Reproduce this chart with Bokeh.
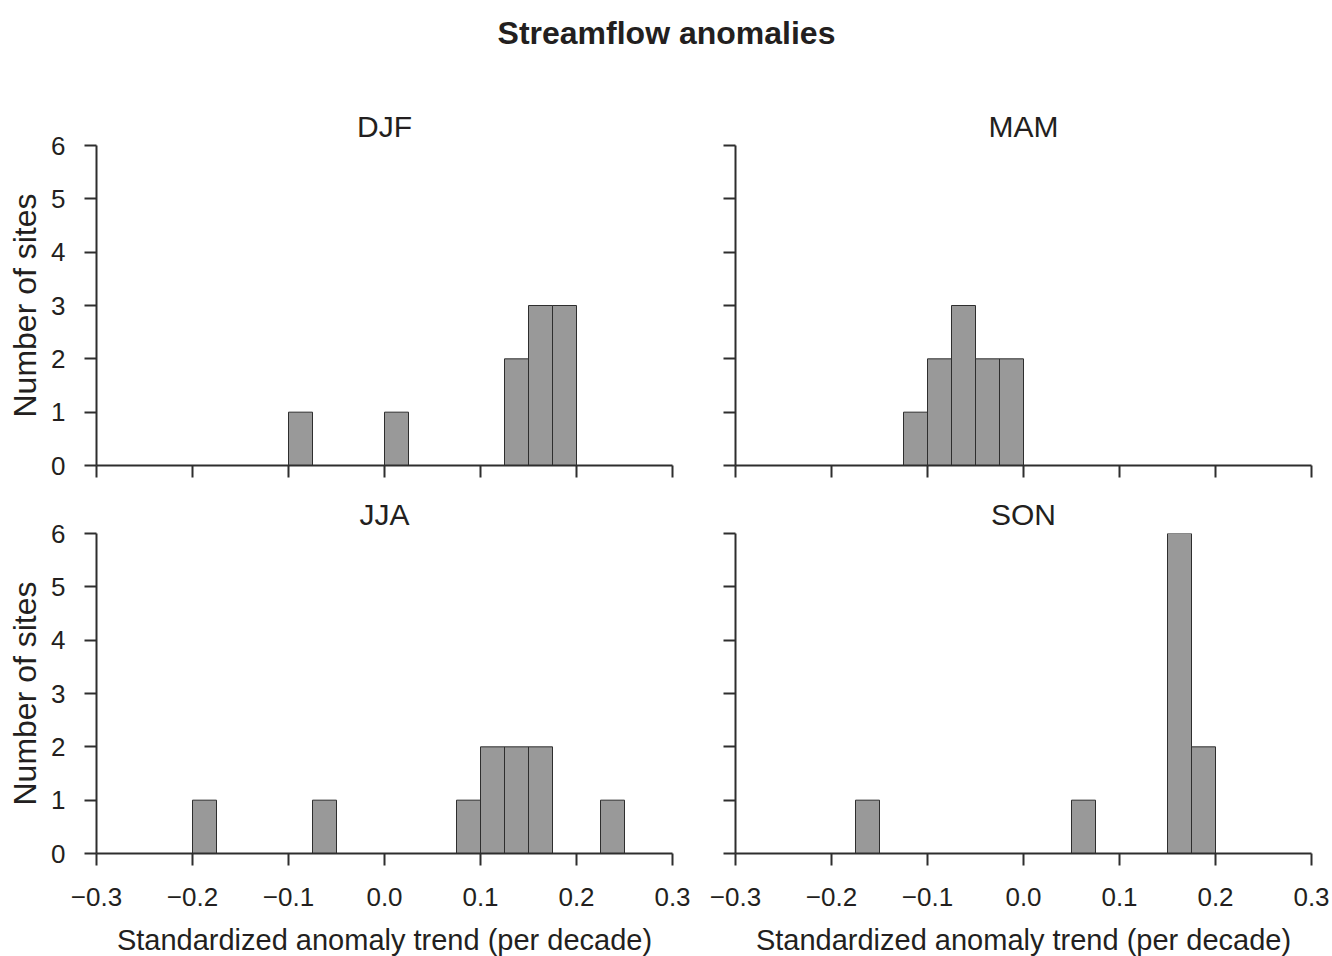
from bokeh.plotting import figure
from bokeh.layouts import column, row
from bokeh.models import FixedTicker, Range1d
from bokeh.embed import file_html
from bokeh.resources import INLINE

# ---- data (bin left edges, bin width 0.025, counts) ----
bin_width = 0.025
djf_left = [-0.1, 0.0, 0.125, 0.15, 0.175]
djf_count = [1, 1, 2, 3, 3]
mam_left = [-0.125, -0.1, -0.075, -0.05, -0.025]
mam_count = [1, 2, 3, 2, 2]
jja_left = [-0.2, -0.075, 0.075, 0.1, 0.125, 0.15, 0.225]
jja_count = [1, 1, 1, 2, 2, 2, 1]
son_left = [-0.175, 0.05, 0.15, 0.175]
son_count = [1, 1, 6, 2]

x_ticks = [-0.3, -0.2, -0.1, 0.0, 0.1, 0.2, 0.3]
x_tick_labels = ["\u22120.3", "\u22120.2", "\u22120.1", "0.0", "0.1", "0.2", "0.3"]
y_ticks = [0, 1, 2, 3, 4, 5, 6]

main_title = "Streamflow anomalies"
x_label = "Standardized anomaly trend (per decade)"
y_label = "Number of sites"

FONT = "Liberation Sans"
TXT = "#231f20"
LINE = "#2e2e2e"


def panel(name, left, count, bottom_row, left_col):
    bl = 96 if left_col else 33
    br = 30 if left_col else 21
    bt = 40 if bottom_row else 67
    bb = 103 if bottom_row else 28
    p = figure(frame_width=576, frame_height=320,
               x_range=Range1d(-0.3, 0.3), y_range=Range1d(0, 6),
               toolbar_location=None, output_backend="svg",
               min_border_left=bl, min_border_right=br,
               min_border_top=bt, min_border_bottom=bb)
    p.outline_line_color = None
    p.xgrid.visible = False
    p.ygrid.visible = False
    p.background_fill_color = "white"
    p.border_fill_color = "white"

    p.title.text = name
    p.title.align = "center"
    p.title.text_font = FONT
    p.title.text_font_size = "30px"
    p.title.text_font_style = "normal"
    p.title.text_color = TXT
    p.title.standoff = 5

    right = [l + bin_width for l in left]
    p.quad(left=left, right=right, bottom=0, top=count,
           fill_color="#999999", line_color="#2e2e2e", line_width=1)

    for ax in (p.xaxis[0], p.yaxis[0]):
        ax.axis_line_color = LINE
        ax.axis_line_width = 2
        ax.major_tick_line_color = LINE
        ax.major_tick_line_width = 2
        ax.major_tick_in = 0
        ax.major_tick_out = 12
        ax.minor_tick_line_color = None
        ax.major_label_text_font = FONT
        ax.major_label_text_color = TXT
        ax.axis_label_text_font = FONT
        ax.axis_label_text_color = TXT
        ax.axis_label_text_font_style = "normal"

    xa = p.xaxis[0]
    xa.ticker = FixedTicker(ticks=x_ticks)
    xa.major_label_overrides = {t: s for t, s in zip(x_ticks, x_tick_labels)}
    if bottom_row:
        xa.major_label_text_font_size = "26px"
        xa.major_label_standoff = 22
        xa.axis_label = x_label
        xa.axis_label_text_font_size = "29px"
        xa.axis_label_standoff = 15
    else:
        xa.major_label_text_font_size = "1px"
        xa.major_label_text_color = None
        xa.major_label_standoff = 0

    ya = p.yaxis[0]
    ya.ticker = FixedTicker(ticks=y_ticks)
    if left_col:
        ya.major_label_text_font_size = "26px"
        ya.major_label_standoff = 19
        ya.axis_label = y_label
        ya.axis_label_text_font_size = "32px"
        ya.axis_label_standoff = 5
    else:
        ya.major_label_text_font_size = "1px"
        ya.major_label_text_color = None
        ya.major_label_standoff = 0
    return p


head = figure(width=1332, height=78, toolbar_location=None, output_backend="svg",
              x_axis_location=None, y_axis_location=None,
              min_border_left=0, min_border_right=0, min_border_bottom=0,
              min_border_top=50)
head.outline_line_color = None
head.xgrid.visible = False
head.ygrid.visible = False
head.title.text = main_title
head.title.align = "center"
head.title.text_font = FONT
head.title.text_font_size = "32px"
head.title.text_font_style = "bold"
head.title.text_color = TXT
head.title.standoff = 0

p1 = panel("DJF", djf_left, djf_count, False, True)
p2 = panel("MAM", mam_left, mam_count, False, False)
p3 = panel("JJA", jja_left, jja_count, True, True)
p4 = panel("SON", son_left, son_count, True, False)

layout = column(head, row(p1, p2), row(p3, p4))

open("out.html", "w").write(file_html(layout, INLINE))
